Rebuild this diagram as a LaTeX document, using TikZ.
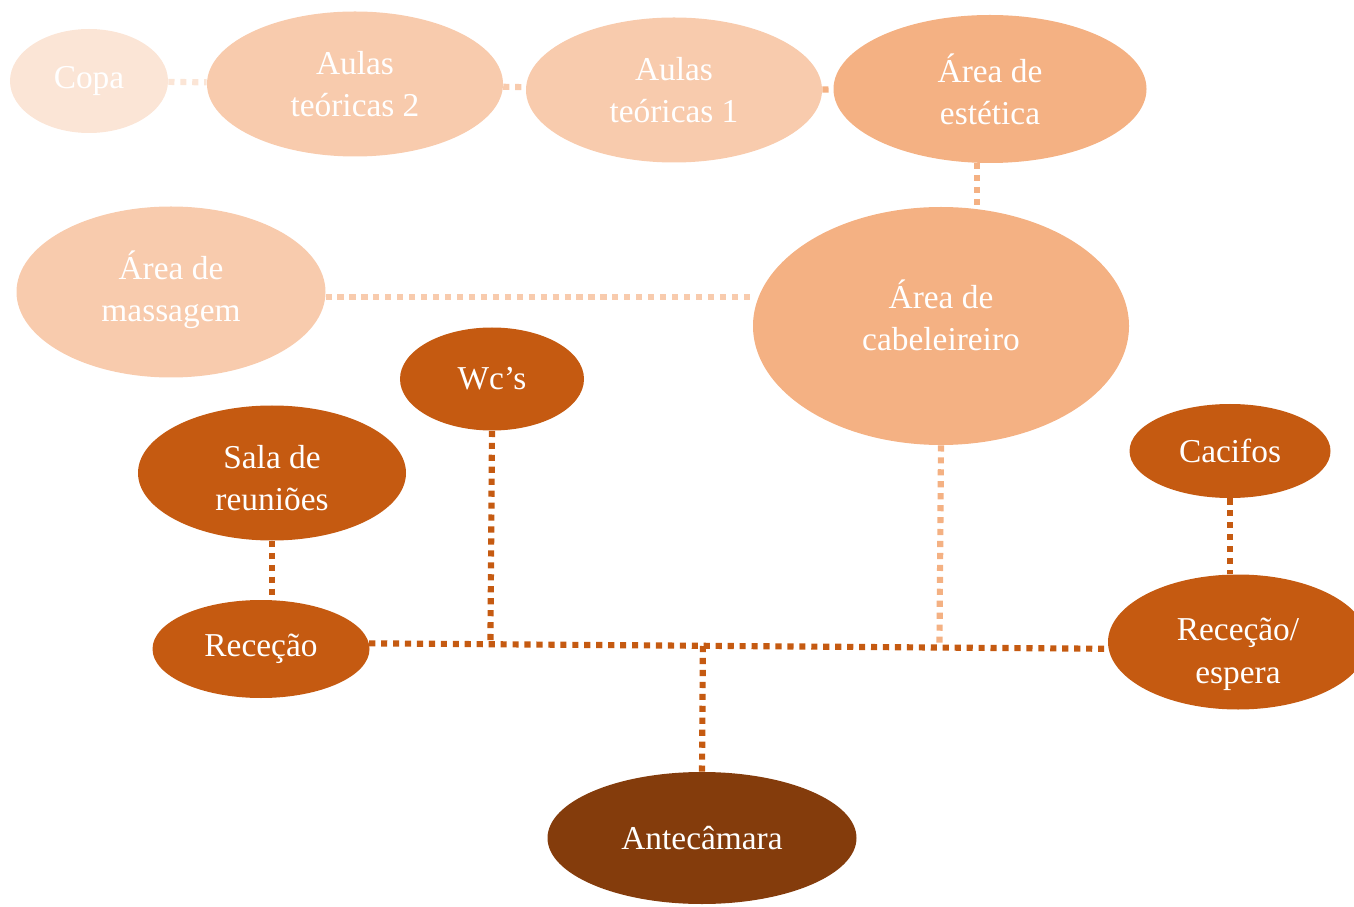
\documentclass[tikz,border=0pt]{standalone}
\usepackage{fontspec}
\setmainfont{Liberation Serif}
\usepackage{xcolor}
\usepackage{tikz}
\usetikzlibrary{shapes.geometric,positioning,calc,backgrounds}

\definecolor{copafill}{HTML}{FBE5D6}
\definecolor{lightfill}{HTML}{F8CBAD}
\definecolor{peachfill}{HTML}{F4B183}
\definecolor{rustfill}{HTML}{C55A11}
\definecolor{brownfill}{HTML}{843C0C}

\begin{document}
\begin{tikzpicture}[
    room/.style={ellipse, inner sep=0pt, align=center, text=white, font=\fontsize{19}{24}\selectfont},
    copa/.style={room, fill=copafill},
    light/.style={room, fill=lightfill},
    peach/.style={room, fill=peachfill},
    rust/.style={room, fill=rustfill},
    brown/.style={room, fill=brownfill},
    dotline/.style={line width=3.5pt, dash pattern=on 3.5pt off 3.3pt},
    copadot/.style={dotline, copafill},
    lightdot/.style={dotline, lightfill},
    peachdot/.style={dotline, peachfill},
    rustdot/.style={dotline, rustfill},
]
\useasboundingbox (0,0) rectangle (27.08,18.12);
% top row
\node[copa, minimum width=3.16cm, minimum height=2.08cm] (copa) at (1.78, 16.50) {Copa};
\node[light, minimum width=5.92cm, minimum height=2.90cm] (aulasB) at (7.10, 16.44) {Aulas\\teóricas 2};
\node[light, minimum width=5.92cm, minimum height=2.90cm] (aulasA) at (13.48, 16.32) {Aulas\\teóricas 1};
\node[peach, minimum width=6.26cm, minimum height=2.96cm] (estetica) at (19.80, 16.34) {Área de\\estética};
% middle
\node[light, minimum width=6.18cm, minimum height=3.42cm] (massagem) at (3.42, 12.28) {Área de\\massagem\\[-17pt]};
\node[peach, minimum width=7.52cm, minimum height=4.76cm] (cabeleireiro) at (18.82, 11.60) {Área de\\cabeleireiro\\[-12pt]};
\node[rust, minimum width=3.68cm, minimum height=2.06cm] (wcs) at (9.84, 10.54) {Wc’s};
\node[rust, minimum width=5.36cm, minimum height=2.70cm] (reunioes) at (5.44, 8.66) {Sala de\\reuniões\\[-30pt]};
\node[rust, minimum width=4.02cm, minimum height=1.88cm] (cacifos) at (24.60, 9.10) {Cacifos};
% bottom
\node[rust, minimum width=4.34cm, minimum height=1.96cm] (rececao) at (5.22, 5.14) {Receção};
\node[rust, minimum width=5.20cm, minimum height=2.70cm] (espera) at (24.76, 5.28) {Receção/\\espera\\[-34pt]};
\node[brown, minimum width=6.18cm, minimum height=2.64cm] (antecamara) at (14.04, 1.36) {Antecâmara};

\coordinate (jw) at ($(rececao.3)!(wcs.south)!(espera.183)$);
\coordinate (ja) at ($(rececao.3)!(antecamara.north)!(espera.183)$);
\coordinate (jc) at ($(rececao.3)!(cabeleireiro.south)!(espera.183)$);

\begin{scope}[on background layer]
\draw[copadot] (copa) -- (aulasB);
\draw[lightdot] (aulasB) -- (aulasA);
\draw[peachdot] (aulasA) -- (estetica);
\draw[peachdot] (estetica.260) -- (estetica.260 |- cabeleireiro.north);
\draw[lightdot] (massagem.358) -- (massagem.358 -| cabeleireiro.west);
\draw[peachdot] (cabeleireiro.south) -- (jc);
\draw[rustdot] (rececao.3) -- (espera.183);
\draw[rustdot] (wcs.south) -- (jw);
\draw[rustdot] (antecamara.north) -- (ja);
\draw[rustdot] (reunioes.south) -- (reunioes.south |- rececao.north);
\draw[rustdot] (cacifos.south) -- (cacifos.south |- espera.north);
\end{scope}
\end{tikzpicture}
\end{document}
